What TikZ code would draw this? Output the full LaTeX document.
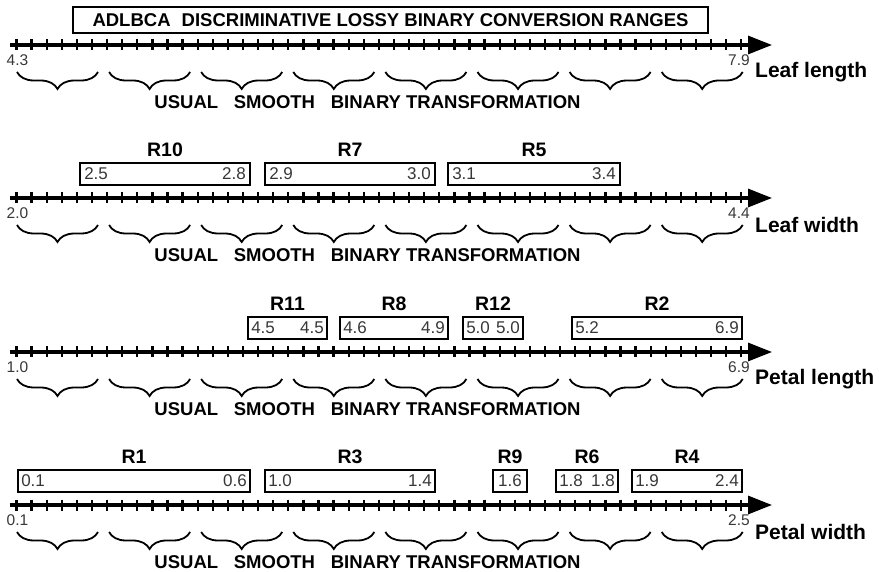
\documentclass[tikz,border=0pt]{standalone}
\usepackage{fontspec}
\setmainfont{Liberation Sans}
\usetikzlibrary{arrows.meta,positioning,decorations.pathreplacing}
\definecolor{numgray}{RGB}{55,55,55}

\tikzset{
  axisline/.style={line width=3.2pt,-{Triangle[length=24pt,width=18pt]}},
  tickmark/.style={line width=2.3pt},
  bracemark/.style={line width=1.8pt,decorate,decoration={brace,mirror,amplitude=17pt}},
  rangebox/.style={draw,line width=1.9pt,minimum height=22pt,inner sep=0pt},
  titlebox/.style={draw,line width=1.9pt,minimum width=635pt,minimum height=26pt,inner sep=0pt,font=\fontsize{18.5}{20}\selectfont\bfseries},
  rangename/.style={font=\fontsize{19.5}{21}\selectfont\bfseries,inner sep=0pt},
  rangeval/.style={font=\fontsize{17}{18}\selectfont,text=numgray,inner sep=0pt},
  endval/.style={font=\fontsize{15.5}{17}\selectfont,text=numgray,inner sep=0pt},
  axisname/.style={font=\fontsize{21}{23}\selectfont\bfseries,anchor=west,inner sep=0pt},
  usualtext/.style={font=\fontsize{18.5}{20}\selectfont\bfseries,inner sep=0pt},
}

\begin{document}
\begin{tikzpicture}[x=1pt,y=-1pt]
  \useasboundingbox (0,0) rectangle (879,572);

  % Title
  \node[titlebox] (title) at (390.5,20) {ADLBCA\hspace{0.6em}DISCRIMINATIVE LOSSY BINARY CONVERSION RANGES};

  % Draw the four axes with ticks and braces
  \foreach \i/\ya/\lo/\hi/\nm in {1/45/4.3/7.9/Leaf length, 2/198/2.0/4.4/Leaf width,
      3/352/1.0/6.9/Petal length, 4/505/0.1/2.5/Petal width}{
    \coordinate (s\i) at (10,\ya);
    \coordinate (e\i) at (772,\ya);
    \draw[axisline] (s\i) -- (e\i);
    \foreach \k in {0,...,48}
      \draw[tickmark] ({16.5+15.1*\k},{\ya-5.5}) -- ++(0,11);
    \foreach \b in {0,...,7}
      \draw[bracemark] ({17+92.1*\b},{\ya+27}) -- ++(81,0);
    \node[endval] (lo\i) at (17.5,{\ya+15}) {\lo};
    \node[endval] (hi\i) at (739,{\ya+15}) {\hi};
    \node[axisname] (name\i) at (755,{\ya+27}) {\nm};
    \node[usualtext] (usual\i) at (367.5,{\ya+57}) {USUAL\hspace{0.85em}SMOOTH\hspace{0.85em}BINARY TRANSFORMATION};
  }

  % Ranges on leaf width
  \foreach \nm/\xl/\xr/\vl/\vr in {R10/80/250/2.5/2.8, R7/265/435/2.9/3.0, R5/448/620/3.1/3.4}{
    \node[rangebox,minimum width={(\xr-\xl)*1pt}] (\nm) at ({(\xl+\xr)/2},174) {};
    \node[rangeval,anchor=west] (\nm-lo) at ([xshift=5pt]\nm.west) {\vl};
    \node[rangeval,anchor=east] (\nm-hi) at ([xshift=-5pt]\nm.east) {\vr};
    \node[rangename,above=5pt of \nm] (\nm-name) {\nm};
  }

  % Ranges on petal length
  \foreach \nm/\xl/\xr/\vl/\vr in {R11/248/327/4.5/4.5, R8/340/448/4.6/4.9, R12/463/523/5.0/5.0, R2/572/742/5.2/6.9}{
    \node[rangebox,minimum width={(\xr-\xl)*1pt}] (\nm) at ({(\xl+\xr)/2},328) {};
    \node[rangeval,anchor=west] (\nm-lo) at ([xshift=4pt]\nm.west) {\vl};
    \node[rangeval,anchor=east] (\nm-hi) at ([xshift=-4pt]\nm.east) {\vr};
    \node[rangename,above=5pt of \nm] (\nm-name) {\nm};
  }

  % Ranges on petal width
  \foreach \nm/\xl/\xr/\vl/\vr in {R1/18/250/0.1/0.6, R3/265/435/1.0/1.4, R6/556/618/1.8/1.8, R4/632/742/1.9/2.4}{
    \node[rangebox,minimum width={(\xr-\xl)*1pt}] (\nm) at ({(\xl+\xr)/2},481) {};
    \node[rangeval,anchor=west] (\nm-lo) at ([xshift=4pt]\nm.west) {\vl};
    \node[rangeval,anchor=east] (\nm-hi) at ([xshift=-4pt]\nm.east) {\vr};
    \node[rangename,above=5pt of \nm] (\nm-name) {\nm};
  }
  \node[rangebox,minimum width=34pt] (R9) at (510,481) {};
  \node[rangeval] (R9-v) at (R9) {1.6};
  \node[rangename,above=5pt of R9] (R9-name) {R9};
\end{tikzpicture}
\end{document}
